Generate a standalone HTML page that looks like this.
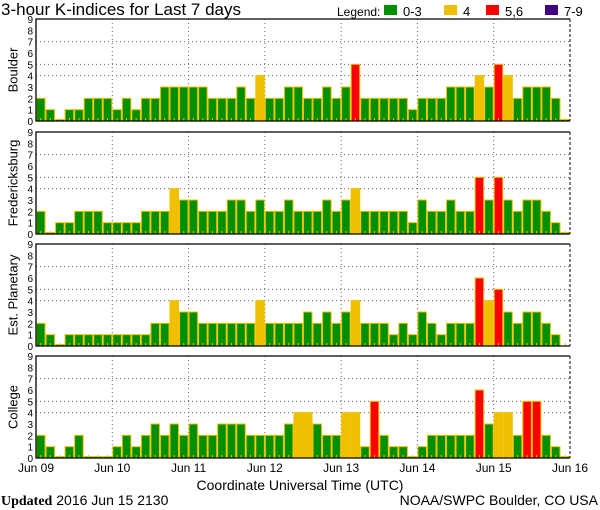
<!DOCTYPE html>
<html><head><meta charset="utf-8"><style>
html,body{margin:0;padding:0;background:#fff;width:600px;height:510px;overflow:hidden}
svg{display:block}
text{font-family:"Liberation Sans",sans-serif;fill:#000}
</style></head><body>
<svg id="s" width="600" height="510" xmlns="http://www.w3.org/2000/svg"></svg>
<script>
const data=[
[2,1,0,1,1,2,2,2, 1,2,1,2,2,3,3,3, 3,3,2,2,2,3,2,4, 2,2,3,3,2,2,3,2, 3,5,2,2,2,2,2,1, 2,2,2,3,3,3,4,3, 5,4,2,3,3,3,2,0],
[2,0,1,1,2,2,2,1, 1,1,1,2,2,2,4,3, 3,2,2,2,3,3,2,3, 2,2,3,2,2,2,3,2, 3,4,2,2,2,2,2,1, 3,2,2,3,2,2,5,3, 5,3,2,3,3,2,1,0],
[2,1,0,1,1,1,1,1, 1,1,1,1,2,2,4,3, 3,2,2,2,2,2,2,4, 2,2,2,2,3,2,3,2, 3,4,2,2,2,1,2,1, 3,2,1,2,2,2,6,4, 5,3,2,3,3,2,1,-1],
[2,1,0,1,2,0,0,0, 1,2,1,2,3,2,3,2, 3,2,2,3,3,3,2,2, 2,2,3,4,4,3,2,2, 4,4,1,5,2,1,1,0, 1,2,2,2,2,2,6,3, 4,4,2,5,5,2,1,0]];
const names=["Boulder","Fredericksburg","Est. Planetary","College"];
const tops=[19,132,244,356];
const X0=36,X1=570,H=102,U=H/9,BW=(X1-X0)/56;
let s='';
s+='<text x="1" y="15" font-size="17">3-hour K-indices for Last 7 days</text>';
s+='<text x="337" y="16" font-size="12">Legend:</text>';
[[384,'#009000','0-3'],[444,'#f0c000','4'],[486,'#ff0000','5,6'],[545,'#400080','7-9']].forEach(l=>{
 s+=`<rect x="${l[0]}" y="5" width="13" height="10" fill="${l[1]}"/><text x="${l[0]+19}" y="16" font-size="13">${l[2]}</text>`;});
function col(v){return v<=3?'#009000':v==4?'#f0c000':v<=6?'#ff0000':'#400080';}
data.forEach((d,p)=>{
 const t=tops[p],b=t+H;
 [4,5,7].forEach(k=>{const y=b-k*U;s+=`<line x1="${X0}" x2="${X1}" y1="${y}" y2="${y}" stroke="#666" stroke-dasharray="1,3"/>`;});
 for(let i=1;i<7;i++){const x=X0+i*BW*8;s+=`<line x1="${x}" x2="${x}" y1="${t}" y2="${b}" stroke="#666" stroke-dasharray="1,3"/>`;}
 d.forEach((v,i)=>{
  const x=X0+i*BW;
  if(v>=0){const h=v==0?1.5:v*U;
   s+=`<rect x="${x+0.5}" y="${b-h}" width="${BW-1}" height="${h}" fill="${col(v)}" stroke="#f0c000" stroke-width="1"/>`;}
  s+=`<line x1="${x+BW/2}" x2="${x+BW/2}" y1="${b-3}" y2="${b}" stroke="#f0c000"/>`;
 });
 s+=`<polyline points="${X1},${t} ${X0},${t} ${X0},${b} ${X1},${b}" fill="none" stroke="#000" stroke-width="1.3"/>`;
 s+=`<line x1="${X1}" x2="${X1}" y1="${t}" y2="${b}" stroke="#000" stroke-dasharray="3,2"/>`;
 for(let k=0;k<=9;k++){s+=`<text x="33" y="${b-k*U+4}" font-size="10" text-anchor="end">${k}</text>`;}
 const cy=t+H/2;
 s+=`<text x="14" y="${cy}" font-size="13" text-anchor="middle" transform="rotate(-90 14 ${cy})" dominant-baseline="middle">${names[p]}</text>`;
});
["Jun 09","Jun 10","Jun 11","Jun 12","Jun 13","Jun 14","Jun 15","Jun 16"].forEach((l,i)=>{
 s+=`<text x="${X0+i*BW*8}" y="472" font-size="12" text-anchor="middle">${l}</text>`;});
s+='<text x="300" y="490" font-size="14" text-anchor="middle">Coordinate Universal Time (UTC)</text>';
s+='<text x="1" y="505" font-size="14"><tspan font-family="Liberation Serif" font-weight="bold">Updated</tspan> 2016 Jun 15 2130</text>';
s+='<text x="598" y="505" font-size="14" text-anchor="end">NOAA/SWPC Boulder, CO USA</text>';
document.getElementById('s').innerHTML=s;
</script>
</body></html>
